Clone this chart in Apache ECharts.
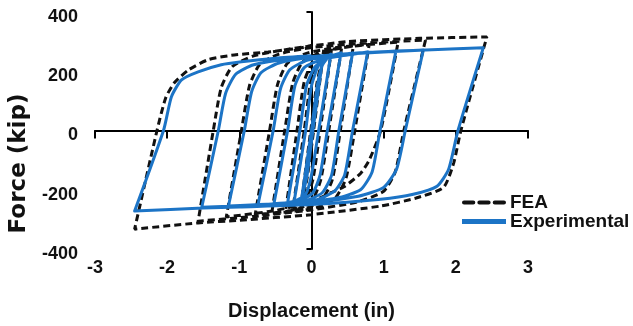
<!DOCTYPE html>
<html>
<head>
<meta charset="utf-8">
<script src="https://cdn.jsdelivr.net/npm/echarts@6/dist/echarts.min.js"></script>
<style>
html,body{margin:0;padding:0;background:#fff;}
#chart{width:633px;height:326px;}
</style>
</head>
<body>
<div id="chart"></div>
<script>
// ---- data (displacement in, force kip) ----
const seriesNames = ['FEA', 'Experimental'];
const xTickValues = [-3, -2, -1, 0, 1, 2, 3];
const yTickValues = [-400, -200, 0, 200, 400];

// Experimental hysteresis, cycle by cycle (positive peak -> negative peak -> back up)
const expCycle1 = [[0,0],[0.16,250],[0.02,0],[-0.06,-150],[-0.14,-235],[0.0,0],[0.08,150],[0.15,220]];
const expCycle2 = [[0.27,258],[0.10,0],[0.0,-150],[-0.08,-215],[-0.24,-240],[-0.08,0],[0.0,150],[0.1,220],[0.25,250]];
const expCycle3 = [[0.41,262],[0.22,0],[0.12,-150],[0.02,-210],[-0.15,-235],[-0.33,-243],[-0.16,0],[-0.07,150],[0.05,215],[0.25,248]];
const expCycle4 = [[0.57,262],[0.38,0],[0.28,-150],[0.15,-210],[-0.1,-238],[-0.52,-247],[-0.33,0],[-0.23,150],[-0.1,212],[0.15,240],[0.5,255]];
const expCycle5 = [[0.78,265],[0.57,0],[0.46,-150],[0.32,-205],[0.05,-235],[-0.4,-246],[-0.74,-250],[-0.53,0],[-0.43,140],[-0.3,205],[-0.05,238],[0.4,255]];
const expCycle6 = [[1.17,268],[0.95,0],[0.84,-140],[0.68,-200],[0.35,-228],[-0.3,-245],[-1.15,-255],[-0.93,0],[-0.83,130],[-0.7,195],[-0.45,228],[0,248],[0.8,264]];
const expCycle7 = [[1.55,272],[1.30,0],[1.18,-130],[1.0,-192],[0.65,-222],[0,-242],[-0.8,-252],[-1.52,-259],[-1.29,0],[-1.19,125],[-1.05,190],[-0.8,222],[-0.3,242],[0.5,258],[1.5,271]];
const expCycle8 = [[2.38,279],[2.03,0],[1.9,-131],[1.74,-188],[1.41,-215],[0.96,-232],[0,-250],[-1.0,-258],[-1.5,-262],[-2.45,-272],[-2.05,0],[-1.94,114],[-1.8,171],[-1.57,198],[-1.25,222],[-0.97,232],[-0.5,244],[0,252]];

// FEA hysteresis, cycle by cycle
const feaCycle1 = [[0,0],[0.17,272],[0.03,0],[-0.06,-160],[-0.15,-262],[-0.01,0],[0.08,165],[0.16,240]];
const feaCycle2 = [[0.28,278],[0.12,0],[0.02,-165],[-0.08,-235],[-0.26,-268],[-0.10,0],[-0.01,165],[0.1,240],[0.25,270]];
const feaCycle3 = [[0.42,282],[0.24,0],[0.13,-165],[0.02,-232],[-0.15,-262],[-0.36,-273],[-0.20,0],[-0.10,165],[0.03,238],[0.25,270]];
const feaCycle4 = [[0.58,285],[0.40,0],[0.29,-165],[0.15,-232],[-0.1,-265],[-0.55,-278],[-0.37,0],[-0.26,160],[-0.12,232],[0.15,266],[0.5,282]];
const feaCycle5 = [[0.8,290],[0.60,0],[0.48,-160],[0.33,-228],[0.05,-262],[-0.4,-276],[-0.78,-284],[-0.58,0],[-0.47,155],[-0.33,228],[-0.05,262],[0.4,282]];
const feaCycle6 = [[1.2,298],[0.96,0],[0.8,-100],[0.68,-145],[0.45,-190],[0.27,-210],[0,-240],[-0.5,-270],[-1.18,-292],[-0.97,0],[-0.86,150],[-0.72,222],[-0.45,258],[0,280],[0.8,296]];
const feaCycle7 = [[1.58,305],[1.28,0],[1.16,-140],[1.0,-205],[0.65,-240],[0,-268],[-0.8,-290],[-1.57,-306],[-1.36,0],[-1.25,145],[-1.1,215],[-0.8,252],[-0.3,275],[0.5,300],[1.5,311]];
const feaCycle8 = [[2.43,316],[2.07,0],[1.97,-110],[1.83,-192],[1.45,-228],[0.96,-255],[0,-284],[-1.0,-303],[-1.57,-312],[-2.45,-333],[-2.14,0],[-2.02,110],[-1.9,161],[-1.7,205],[-1.43,239],[-1.07,255],[-0.6,265],[-0.15,279],[0,287]];

const expData = [].concat(expCycle1, expCycle2, expCycle3, expCycle4, expCycle5, expCycle6, expCycle7, expCycle8);
const feaData = [].concat(feaCycle1, feaCycle2, feaCycle3, feaCycle4, feaCycle5, feaCycle6, feaCycle7, feaCycle8);

const sans = '"Liberation Sans", Arial, sans-serif';
const textColor = '#111';
const blue = '#1c74c6';

const chart = echarts.init(document.getElementById('chart'), null, {renderer: 'canvas'});
chart.setOption({
  animation: false,
  backgroundColor: '#fff',
  grid: {left: 93, right: 105, top: 12, bottom: 76, containLabel: false},
  legend: {
    orient: 'vertical',
    left: 457,
    top: 188,
    itemWidth: 44,
    itemHeight: 5,
    itemGap: 0,
    textStyle: {fontFamily: sans, fontWeight: 'bold', fontSize: 19, color: textColor, padding: [0,0,0,-1]},
    data: [
      {name: seriesNames[0], icon: 'path://M2,0h9a2,2 0 0 1 0,4h-9a2,2 0 0 1 0,-4z M17,0h9a2,2 0 0 1 0,4h-9a2,2 0 0 1 0,-4z M32,0h9a2,2 0 0 1 0,4h-9a2,2 0 0 1 0,-4z', itemStyle: {color: '#111'}},
      {name: seriesNames[1], icon: 'rect', itemStyle: {color: blue}}
    ]
  },
  xAxis: [
    {
      type: 'value', min: xTickValues[0], max: xTickValues[xTickValues.length-1], interval: 1,
      position: 'bottom',
      axisLine: {show: false, onZero: false},
      axisTick: {show: false},
      splitLine: {show: false},
      axisLabel: {fontFamily: sans, fontWeight: 'bold', fontSize: 18, color: textColor, margin: 10},
      name: 'Displacement (in)', nameLocation: 'middle', nameGap: 52,
      nameTextStyle: {fontFamily: sans, fontWeight: 'bold', fontSize: 20, color: textColor}
    },
    {
      type: 'value', min: xTickValues[0], max: xTickValues[xTickValues.length-1], interval: 1,
      position: 'bottom',
      axisLine: {show: true, onZero: true, lineStyle: {color: '#000', width: 2}},
      axisTick: {show: true, length: 8, lineStyle: {color: '#000', width: 2}},
      axisLabel: {show: false},
      splitLine: {show: false}
    }
  ],
  yAxis: [
    {
      type: 'value', min: yTickValues[0], max: yTickValues[yTickValues.length-1], interval: 200,
      position: 'left',
      axisLine: {show: false, onZero: false},
      axisTick: {show: false},
      splitLine: {show: false},
      axisLabel: {
        margin: 17,
        formatter: '{v|{value}}',
        rich: {v: {fontFamily: sans, fontWeight: 'bold', fontSize: 18, color: textColor, padding: [10, 0, 0, 0]}}
      },
      name: 'Force (kip)', nameLocation: 'middle', nameRotate: 90, nameGap: 49,
      nameTextStyle: {fontFamily: '"DejaVu Sans", sans-serif', fontWeight: 'bold', fontSize: 23, color: textColor, padding: [0, 66, 0, 0]}
    },
    {
      type: 'value', min: yTickValues[0], max: yTickValues[yTickValues.length-1], interval: 200,
      position: 'left',
      axisLine: {show: true, onZero: true, lineStyle: {color: '#000', width: 2}},
      axisTick: {show: true, length: 5, lineStyle: {color: '#000', width: 2}},
      axisLabel: {show: false},
      splitLine: {show: false}
    }
  ],
  series: [
    {
      name: seriesNames[0], type: 'line', xAxisIndex: 0, yAxisIndex: 0,
      data: feaData, showSymbol: false, symbol: 'none', smooth: 0.2,
      lineStyle: {color: '#111', width: 3, type: [7, 4]},
      itemStyle: {color: '#111'}, z: 2
    },
    {
      name: seriesNames[1], type: 'line', xAxisIndex: 0, yAxisIndex: 0,
      data: expData, showSymbol: false, symbol: 'none', smooth: 0.2,
      lineStyle: {color: blue, width: 3, join: 'round'},
      itemStyle: {color: blue}, z: 3
    }
  ]
});
</script>
</body>
</html>
